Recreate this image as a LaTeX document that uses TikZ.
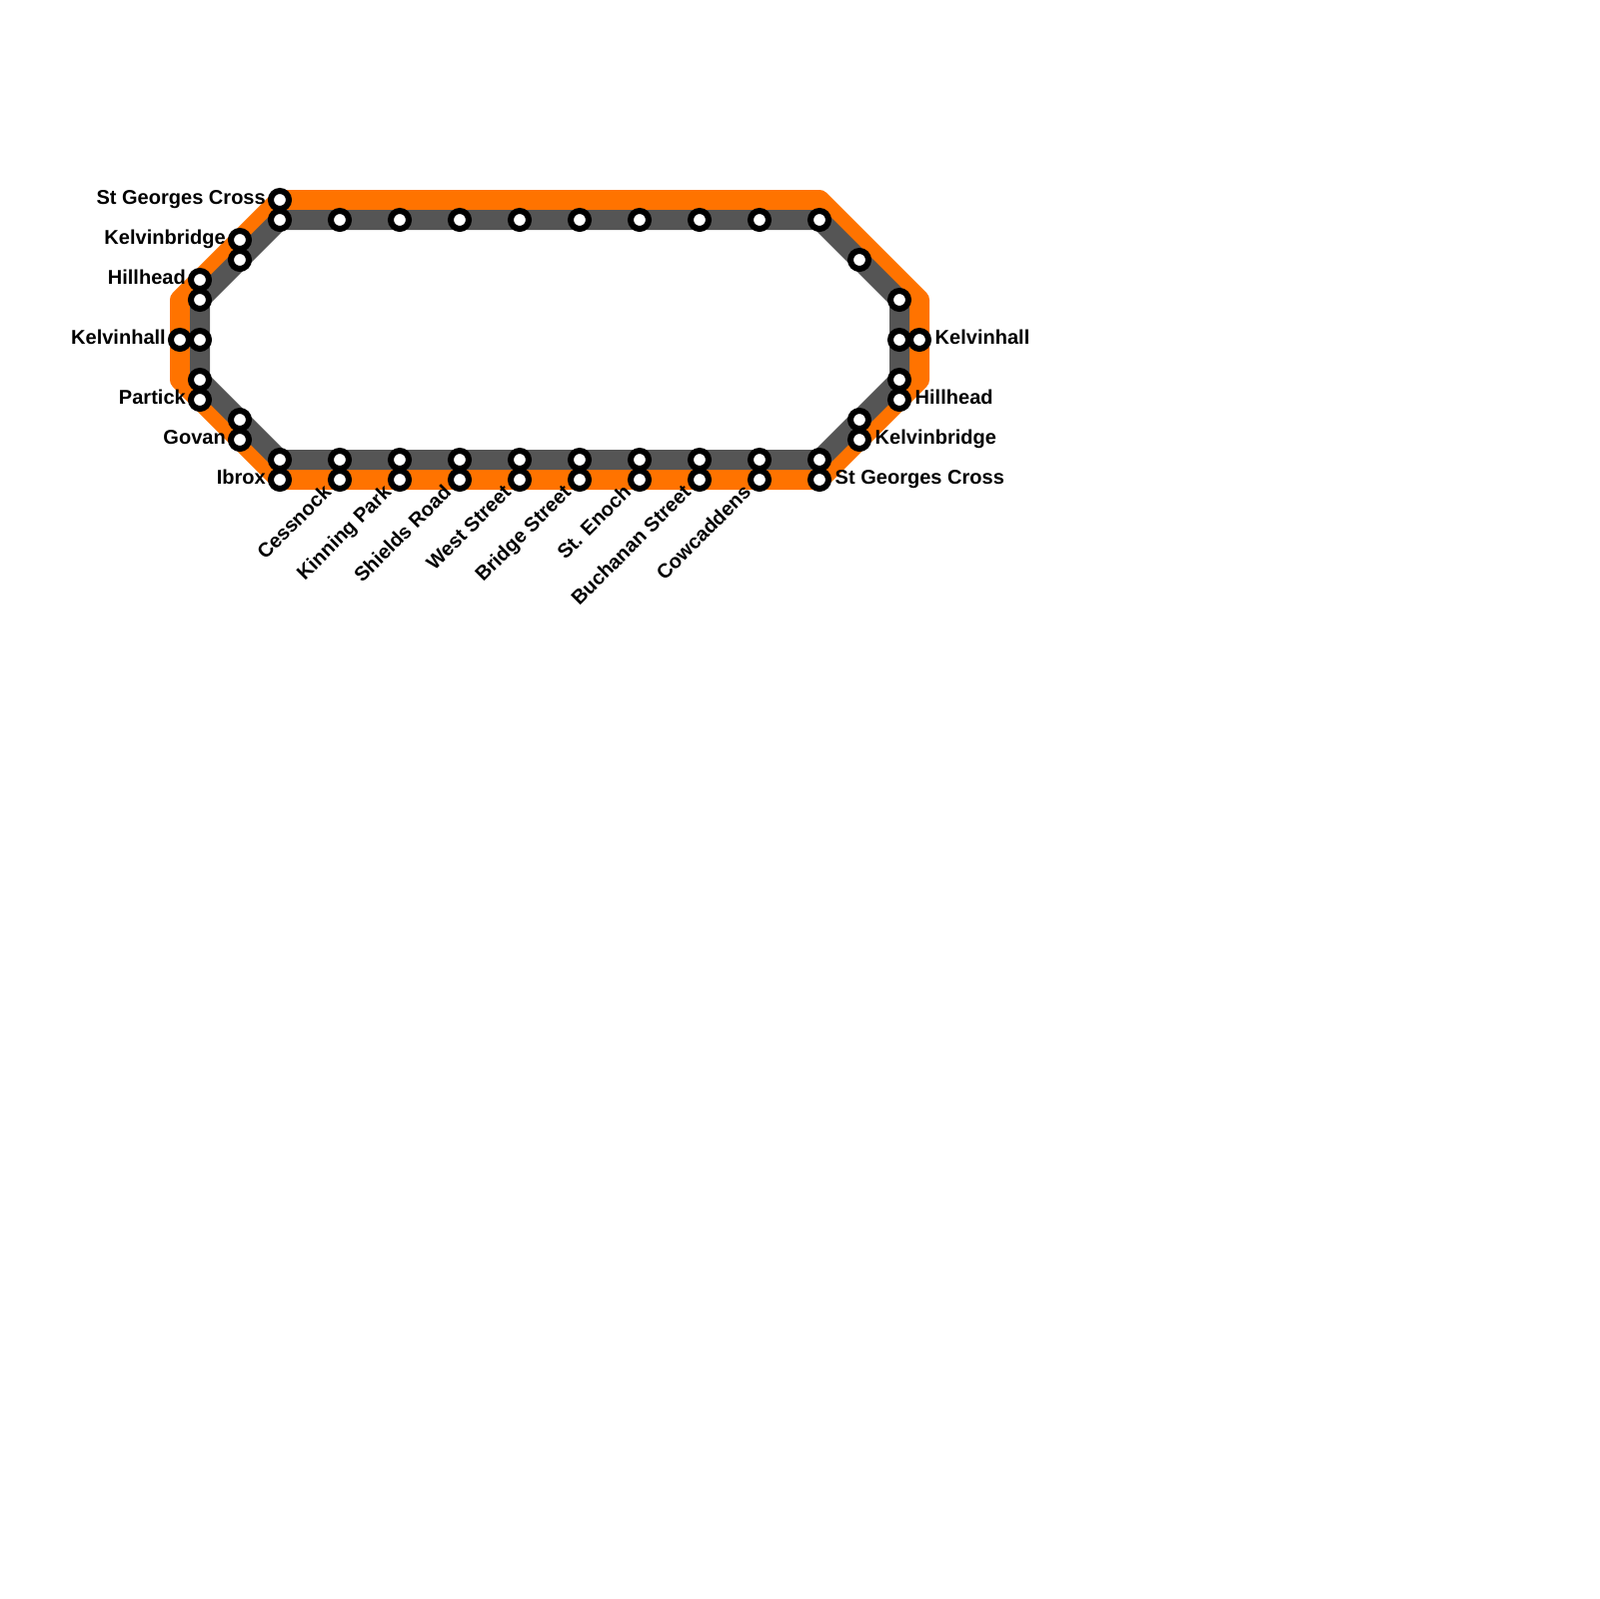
\documentclass[tikz,border=0pt]{standalone}
\usepackage{fontspec}
\setmainfont{Liberation Sans}
\usetikzlibrary{backgrounds}
\definecolor{Subway}{HTML}{FF7300}
\definecolor{Inner}{HTML}{555555}
\tikzset{
 stn/.style={circle,draw=black,fill=white,line width=0.6mm,minimum size=1.8mm,inner sep=0pt},
 stnlabel/.style={font=\fontsize{5.7pt}{6.5pt}\selectfont\bfseries,inner sep=0pt,text height=4pt,text depth=0pt,yshift=0.25mm},
 route/.style={line width=2mm,line join=round}
}
\begin{document}
\begin{tikzpicture}[x=0.1mm,y=-0.1mm]
\useasboundingbox (0,0) rectangle (1600,1600);
% outer line corners
\coordinate (o1) at (820,200);\coordinate (o2) at (920,300);
\coordinate (o3) at (920,380);\coordinate (o4) at (180,380);
\coordinate (o5) at (180,300);
% stations with a label on the left
\foreach \n/\px/\py/\txt in {a/280/200/St Georges Cross,b/240/240/Kelvinbridge,c/200/280/Hillhead,
 d/180/340/Kelvinhall,e/200/400/Partick,f/240/440/Govan,g/280/480/Ibrox}
 \node[stn,label={[stnlabel,label distance=0.15mm]left:\txt}] (\n) at (\px,\py) {};
% stations with a label on the right
\foreach \n/\px/\py/\txt in {h/920/340/Kelvinhall,i/900/400/Hillhead,j/860/440/Kelvinbridge,k/820/480/St Georges Cross}
 \node[stn,label={[stnlabel,label distance=0.3mm]right:\txt}] (\n) at (\px,\py) {};
% stations without a label, top and sides
\foreach \n/\px/\py in {t0/280/220,t1/340/220,t2/400/220,t3/460/220,t4/520/220,t5/580/220,t6/640/220,t7/700/220,
 t8/760/220,t9/820/220,r1/860/260,r2/900/300,r3/900/340,r4/900/380,r5/860/420,b0/820/460,
 l1/240/260,l2/200/300,l3/200/340,l4/200/380,l5/240/420,b9/280/460}
 \node[stn] (\n) at (\px,\py) {};
% bottom row
\foreach \n/\px/\txt in {1/340/Cessnock,2/400/Kinning Park,3/460/Shields Road,4/520/West Street,
 5/580/Bridge Street,6/640/St. Enoch,7/700/Buchanan Street,8/760/Cowcaddens}{
 \node[stn] (u\n) at (\px,460) {};
 \node[stn] (v\n) at (\px,480) {};
 \node[stnlabel,rotate=45,anchor=east] (w\n) at ([shift={(-12,11)}]v\n.center) {\txt};
}
\begin{scope}[on background layer]
\draw[route,Subway] (a.center)--(o1)--(o2)--(o3)--(k.center)--(g.center)--(o4)--(o5)--cycle;
\draw[route,Inner] (t0.center)--(t9.center)--(r2.center)--(r4.center)--(b0.center)--(b9.center)--(l4.center)--(l2.center)--cycle;
\end{scope}
\end{tikzpicture}
\end{document}
